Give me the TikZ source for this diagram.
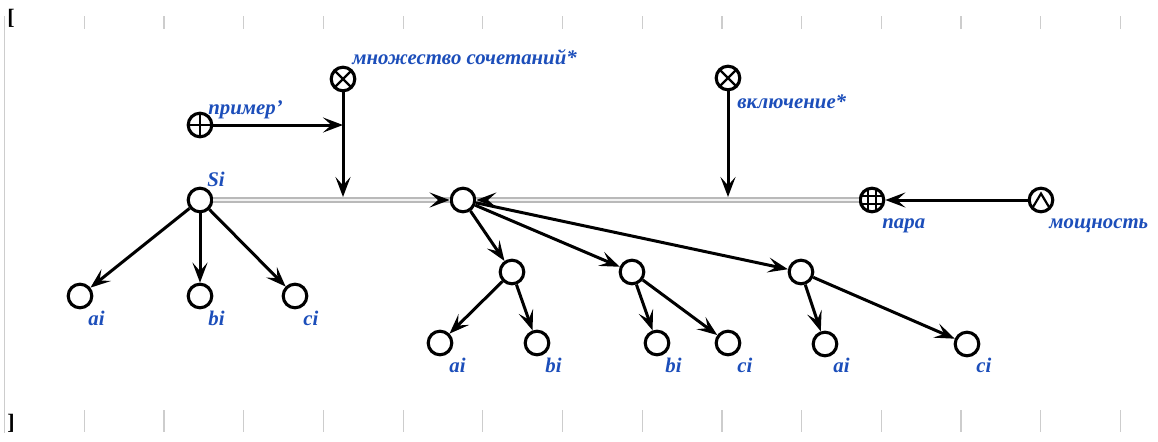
\documentclass[tikz,border=0pt]{standalone}
\usepackage{fontspec}
\setmainfont{Liberation Serif}
\usetikzlibrary{arrows.meta,calc}
\definecolor{ink}{RGB}{0,0,0}
\definecolor{lblblue}{RGB}{28,78,186}
\definecolor{ruler}{RGB}{205,205,205}
\tikzset{
  scnode/.style={circle,draw=ink,line width=1.55pt,minimum size=11.8pt,inner sep=0pt,fill=white},
  crossnode/.style={scnode,path picture={
    \draw[line width=1.1pt] (path picture bounding box.north west) -- (path picture bounding box.south east)
      (path picture bounding box.north east) -- (path picture bounding box.south west);}},
  plusnode/.style={scnode,path picture={
    \draw[line width=1.1pt] (path picture bounding box.north) -- (path picture bounding box.south)
      (path picture bounding box.west) -- (path picture bounding box.east);}},
  gridnode/.style={scnode,path picture={
    \foreach \d in {-2,2}{
      \draw[line width=0.7pt] ([xshift=\d pt]path picture bounding box.north) -- ([xshift=\d pt]path picture bounding box.south)
        ([yshift=\d pt]path picture bounding box.west) -- ([yshift=\d pt]path picture bounding box.east);}}},
  capnode/.style={scnode,path picture={
    \draw[line width=1.1pt] ([shift={(-4pt,-3.5pt)}]path picture bounding box.center)
      -- ([yshift=3.2pt]path picture bounding box.center)
      -- ([shift={(4pt,-3.5pt)}]path picture bounding box.center);}},
  lbl/.style={text=lblblue,font=\fontsize{10.4}{12}\selectfont\bfseries\itshape,inner sep=0pt,anchor=base west},
  arr/.style={draw=ink,line width=1.5pt,-{Stealth[length=10pt,width=7.5pt,inset=4.2pt]}},
  dbl/.style={draw=gray!55,line width=1pt,double=white!90!gray,double distance=1.3pt},
  tick/.style={draw=ruler,line width=0.6pt},
}

\begin{document}
\begin{tikzpicture}[x=0.5pt,y=-0.5pt]
  \useasboundingbox (0,0) rectangle (1158,441);
  % ruler
  \draw[tick] (4.5,16) -- (4.5,433);
  \foreach \k in {0,...,13}{
    \draw[tick] ({84.3+79.7*\k},16) -- ++(0,13);
    \draw[tick] ({84.3+79.7*\k},410) -- ++(0,22);
  }
  \node[font=\fontsize{11}{12}\selectfont\bfseries,inner sep=0pt] (brOpen) at (11,18) {[};
  \node[font=\fontsize{11}{12}\selectfont\bfseries,inner sep=0pt] (brClose) at (11,423) {]};

  % nodes
  \node[scnode] (si) at (200,200) {};
  \node[plusnode] (primer) at (200,125) {};
  \node[crossnode] (mnozh) at (343,79) {};
  \node[scnode] (cen) at (463,200) {};
  \node[crossnode] (vkl) at (728,78) {};
  \node[gridnode] (para) at (872,200) {};
  \node[capnode] (mosch) at (1041,200) {};

  \node[scnode] (sa) at (80,296) {};
  \node[scnode] (sb) at (200,296) {};
  \node[scnode] (sc) at (295,296) {};

  \node[scnode] (p1) at (512,272) {};
  \node[scnode] (p2) at (632,272) {};
  \node[scnode] (p3) at (801,272) {};
  \node[scnode] (p1a) at (440,343) {};
  \node[scnode] (p1b) at (537,343) {};
  \node[scnode] (p2b) at (657,343) {};
  \node[scnode] (p2c) at (728,343) {};
  \node[scnode] (p3a) at (825,344) {};
  \node[scnode] (p3c) at (967,344) {};

  % labels
  \node[lbl] (siL) at (207,186) {Si};
  \node[lbl] (primerL) at (208,114) {пример'};
  \node[lbl] (mnozhL) at (352,64) {множество сочетаний*};
  \node[lbl] (vklL) at (737,108) {включение*};
  \node[lbl] (paraL) at (882,228) {пара};
  \node[lbl] (moschL) at (1049,228) {мощность};
  \node[lbl] (saL) at (88,325) {ai};
  \node[lbl] (sbL) at (208,325) {bi};
  \node[lbl] (scL) at (303,325) {ci};
  \node[lbl] (p1aL) at (449,372) {ai};
  \node[lbl] (p1bL) at (545,372) {bi};
  \node[lbl] (p2bL) at (665,372) {bi};
  \node[lbl] (p2cL) at (737,372) {ci};
  \node[lbl] (p3aL) at (833,372) {ai};
  \node[lbl] (p3cL) at (976,372) {ci};

  % double arcs
  \draw[dbl] (si) -- (cen);
  \draw[dbl] (para) -- (cen);
  \coordinate (tipL) at ($(cen.west)+(-12,0)$);
  \coordinate (tipR) at ($(cen.east)+(12,0)$);
  \draw[arr] (tipL) -- (cen);
  \draw[arr] (tipR) -- (cen);

  % arcs to arcs
  \coordinate (jm) at (mnozh |- si);
  \coordinate (jv) at (vkl |- cen);
  \coordinate (jp) at (primer -| mnozh);
  \draw[arr,shorten >=1.5pt] (mnozh) -- (jm);
  \draw[arr,shorten >=1.5pt] (vkl) -- (jv);
  \draw[arr] (primer) -- (jp);
  \draw[arr] (mosch) -- (para);

  % trees
  \foreach \t in {sa,sb,sc} \draw[arr] (si) -- (\t);
  \foreach \t in {p1,p2,p3} \draw[arr] (cen) -- (\t);
  \draw[arr] (p1) -- (p1a);
  \draw[arr] (p1) -- (p1b);
  \draw[arr] (p2) -- (p2b);
  \draw[arr] (p2) -- (p2c);
  \draw[arr] (p3) -- (p3a);
  \draw[arr] (p3) -- (p3c);
\end{tikzpicture}
\end{document}
